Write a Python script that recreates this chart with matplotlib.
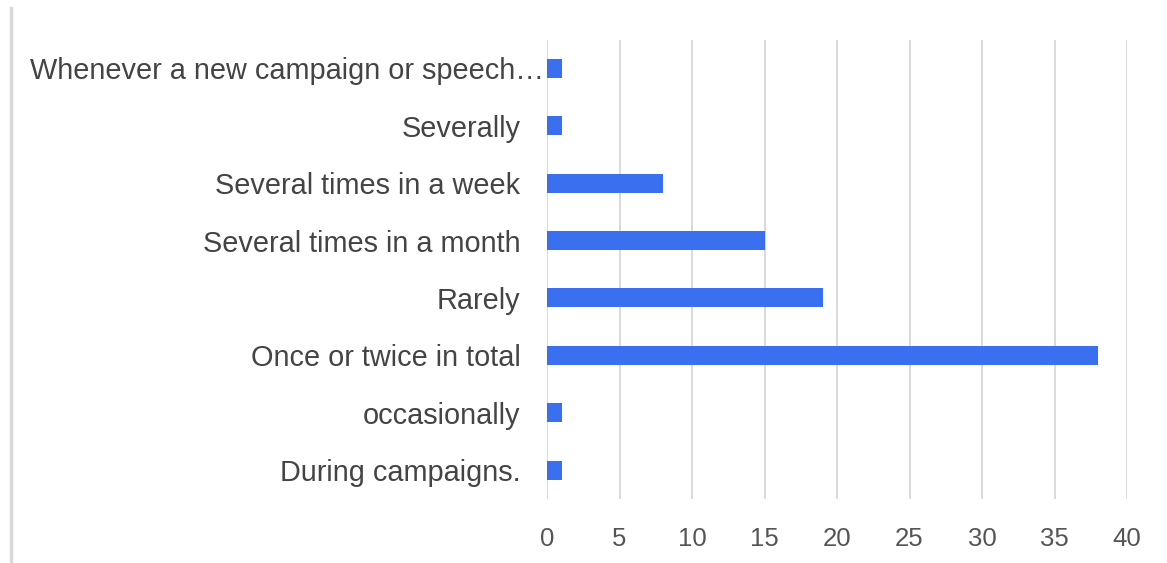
import matplotlib
matplotlib.use("Agg")
import matplotlib.pyplot as plt
from matplotlib.lines import Line2D

categories = [
    "Whenever a new campaign or speech\u2026",
    "Severally",
    "Several times in a week",
    "Several times in a month",
    "Rarely",
    "Once or twice in total",
    "occasionally",
    "During campaigns.",
]
values = [1, 1, 8, 15, 19, 38, 1, 1]
xticks = [0, 5, 10, 15, 20, 25, 30, 35, 40]

plt.rcParams['font.family'] = ['Liberation Sans', 'DejaVu Sans']

fig = plt.figure(figsize=(11.67, 5.63), dpi=100)
W, H = 1167, 563
x0, x1 = 547, 1127
ytop, ybot = 39.5, 499
ax = fig.add_axes([x0 / W, 1 - ybot / H, (x1 - x0) / W, (ybot - ytop) / H])

pos = list(range(len(categories)))
ax.barh(pos, values, height=0.33, color="#3a6ff0", zorder=3)
ax.set_xlim(0, 40)
ax.set_ylim(len(categories) - 0.5, -0.5)
ax.set_xticks(xticks)
ax.set_xticklabels([str(t) for t in xticks], fontsize=18.5, color="#555555")
ax.set_yticks(pos)
ax.set_yticklabels(categories, fontsize=20.8, color="#444444")
ax.tick_params(axis="y", length=0, pad=19)
ax.tick_params(axis="x", length=0, pad=20)
ax.grid(axis="x", color="#d0d0d0", linewidth=1.1, zorder=0)
for s in ax.spines.values():
    s.set_visible(False)

# first label is truncated and sits flush with the axis
lbl = ax.get_yticklabels()[0]
lbl.set_x(0.04)

fig.add_artist(Line2D([10.5 / W, 10.5 / W], [0, 1 - 8 / H], transform=fig.transFigure,
                      color="#d8d8d8", linewidth=2.5))

fig.savefig("out.png", dpi=100)
